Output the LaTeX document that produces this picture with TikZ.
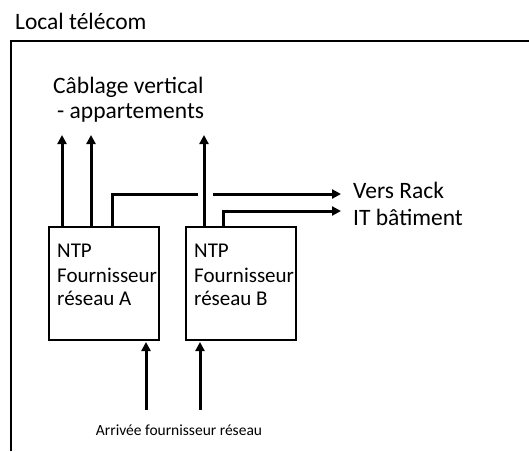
\documentclass[tikz,border=0pt]{standalone}
\usepackage{fontspec}
\setmainfont{Carlito}
\usetikzlibrary{arrows.meta}
\begin{document}
\begin{tikzpicture}[x=1pt,y=1pt,
  box/.style={draw, line width=1.8pt, minimum width=110pt, minimum height=113pt, inner sep=0pt},
  wire/.style={line width=3pt, -{Triangle[length=9pt,width=9pt]}},
  plainwire/.style={line width=3pt},
  big/.style={inner sep=0pt, anchor=base west, font=\fontsize{23.5}{26}\selectfont},
  boxtext/.style={inner sep=0pt, anchor=base west, font=\fontsize{21}{24}\selectfont},
  small/.style={inner sep=0pt, anchor=base, font=\fontsize{15.5}{18}\selectfont}]
\useasboundingbox (0,0) rectangle (529,-451);
% frame
\draw[line width=1.8pt] (11,-451) -- (11,-41) -- (529,-41);
\node[big] (title) at (15,-29) {Local télécom};
% boxes
\node[box] (boxA) at (104,-283.5) {};
\node[box] (boxB) at (241,-283.5) {};
\node[boxtext] (tA1) at (57,-257) {NTP};
\node[boxtext] (tA2) at (57,-282) {Fournisseur};
\node[boxtext] (tA3) at (57,-305) {réseau A};
\node[boxtext] (tB1) at (194,-257) {NTP};
\node[boxtext] (tB2) at (194,-282) {Fournisseur};
\node[boxtext] (tB3) at (194,-305) {réseau B};
% labels
\node[big] (vert1) at (53,-93) {Câblage vertical};
\node[big] (vert2) at (57,-118) {- appartements};
\node[big] (rack1) at (353,-198) {Vers Rack};
\node[big] (rack2) at (353,-225) {IT bâtiment};
\node[small] (arr) at (179,-435) {Arrivée fournisseur réseau};
% coordinates
\coordinate (a1) at (62,-227);   \coordinate (a1t) at (62,-135);
\coordinate (a2) at (91,-227);   \coordinate (a2t) at (91,-135);
\coordinate (b1) at (204,-227);  \coordinate (b1t) at (204,-135);
\coordinate (a3) at (112,-227);  \coordinate (hop1) at (198,-194);
\coordinate (hop2) at (213,-194); \coordinate (r1) at (341,-194);
\coordinate (b2) at (223,-227);  \coordinate (r2) at (341,-211);
\coordinate (inA) at (146,-410); \coordinate (inAt) at (146,-342);
\coordinate (inB) at (200,-410); \coordinate (inBt) at (200,-342);
% connectors
\draw[wire] (a1) -- (a1t);
\draw[wire] (a2) -- (a2t);
\draw[wire] (b1) -- (b1t);
\draw[plainwire] (a3) |- (hop1);
\draw[wire] (hop2) -- (r1);
\draw[wire] (b2) |- (r2);
\draw[wire] (inA) -- (inAt);
\draw[wire] (inB) -- (inBt);
\end{tikzpicture}
\end{document}
